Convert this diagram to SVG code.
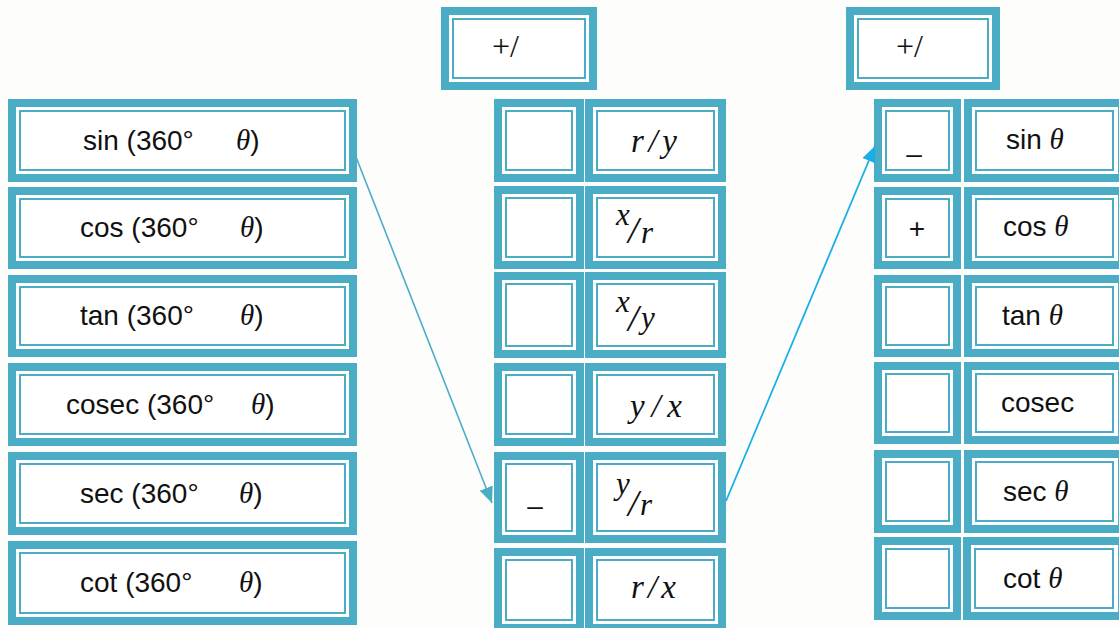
<svg xmlns="http://www.w3.org/2000/svg" width="1119" height="628" viewBox="0 0 1119 628">
  <style>
    .o { fill: #4bacc6; }
    .g { fill: #ffffff; }
    .l { fill: #ffffff; stroke: #4bacc6; stroke-width: 2; }
    text { font-family: "Liberation Sans", Arial, sans-serif; font-size: 28px; fill: #111111; }
    .m { font-family: "Liberation Serif", "Times New Roman", serif; font-style: italic; font-size: 29px; }
    .mm { font-family: "Liberation Serif", "Times New Roman", serif; font-style: italic; font-size: 33px; }
    .ms { font-family: "Liberation Serif", "Times New Roman", serif; font-style: italic; font-size: 31px; }
    .sl { font-family: "Liberation Serif", "Times New Roman", serif; font-style: italic; font-size: 38px; }
    .hd { font-family: "Liberation Serif", "Times New Roman", serif; font-size: 32px; }
    .c { text-anchor: middle; }
    .arrow1 { stroke: #4bacc6; stroke-width: 1.6; fill: none; }
    .arrow2 { stroke: #1aaee8; stroke-width: 1.8; fill: none; }
  </style>
  <defs>
    <marker id="headTeal" markerUnits="userSpaceOnUse" markerWidth="16" markerHeight="14" refX="16" refY="7" orient="auto">
      <path d="M0,0 L16,7 L0,14 z" fill="#4bacc6"/>
    </marker>
    <marker id="headBlue" markerUnits="userSpaceOnUse" markerWidth="16" markerHeight="14" refX="16" refY="7" orient="auto">
      <path d="M0,0 L16,7 L0,14 z" fill="#1aaee8"/>
    </marker>
  </defs>

  <rect x="0" y="0" width="1119" height="628" fill="#fdfdfc"/>

  <!-- left column: functions of (360° − θ) -->
  <g id="left-sin">
    <rect class="o" x="8" y="99" width="349" height="83"/>
    <rect class="g" x="16" y="107" width="333" height="67"/>
    <rect class="l" x="20" y="111" width="325" height="59"/>
    <text x="83" y="150">sin (360°<tspan x="236" class="m">θ</tspan>)</text>
  </g>
  <g id="left-cos">
    <rect class="o" x="8" y="187" width="349" height="82"/>
    <rect class="g" x="16" y="195" width="333" height="66"/>
    <rect class="l" x="20" y="199" width="325" height="58"/>
    <text x="80" y="237">cos (360°<tspan x="240" class="m">θ</tspan>)</text>
  </g>
  <g id="left-tan">
    <rect class="o" x="8" y="275" width="349" height="82"/>
    <rect class="g" x="16" y="283" width="333" height="66"/>
    <rect class="l" x="20" y="287" width="325" height="58"/>
    <text x="80" y="325">tan (360°<tspan x="240" class="m">θ</tspan>)</text>
  </g>
  <g id="left-cosec">
    <rect class="o" x="8" y="363" width="349" height="83"/>
    <rect class="g" x="16" y="371" width="333" height="67"/>
    <rect class="l" x="20" y="375" width="325" height="59"/>
    <text x="66" y="414">cosec (360°<tspan x="251" class="m">θ</tspan>)</text>
  </g>
  <g id="left-sec">
    <rect class="o" x="8" y="452" width="349" height="83"/>
    <rect class="g" x="16" y="460" width="333" height="67"/>
    <rect class="l" x="20" y="464" width="325" height="59"/>
    <text x="80" y="503">sec (360°<tspan x="239" class="m">θ</tspan>)</text>
  </g>
  <g id="left-cot">
    <rect class="o" x="8" y="541" width="349" height="84"/>
    <rect class="g" x="16" y="549" width="333" height="68"/>
    <rect class="l" x="20" y="553" width="325" height="60"/>
    <text x="80" y="592">cot (360°<tspan x="239" class="m">θ</tspan>)</text>
  </g>

  <!-- middle column: sign header and ratios -->
  <g id="mid-header">
    <rect class="o" x="441" y="7" width="156" height="83"/>
    <rect class="g" x="449" y="15" width="140" height="67"/>
    <rect class="l" x="453" y="19" width="132" height="59"/>
    <text class="hd" x="492" y="57">+/</text>
  </g>

  <g id="mid-sign-1">
    <rect class="o" x="494" y="99" width="90" height="83"/>
    <rect class="g" x="502" y="107" width="74" height="67"/>
    <rect class="l" x="506" y="111" width="66" height="59"/>
  </g>
  <g id="mid-ratio-1">
    <rect class="o" x="585" y="99" width="141" height="83"/>
    <rect class="g" x="593" y="107" width="125" height="67"/>
    <rect class="l" x="597" y="111" width="117" height="59"/>
    <text class="mm" x="631" y="152" textLength="46" lengthAdjust="spacing">r/y</text>
  </g>

  <g id="mid-sign-2">
    <rect class="o" x="494" y="186" width="90" height="83"/>
    <rect class="g" x="502" y="194" width="74" height="67"/>
    <rect class="l" x="506" y="198" width="66" height="59"/>
  </g>
  <g id="mid-ratio-2">
    <rect class="o" x="585" y="186" width="141" height="83"/>
    <rect class="g" x="593" y="194" width="125" height="67"/>
    <rect class="l" x="597" y="198" width="117" height="59"/>
    <text class="ms" x="616" y="225">x</text>
    <text class="sl" x="628" y="243">/</text>
    <text class="ms" x="641" y="243">r</text>
  </g>

  <g id="mid-sign-3">
    <rect class="o" x="494" y="272" width="90" height="86"/>
    <rect class="g" x="502" y="280" width="74" height="70"/>
    <rect class="l" x="506" y="284" width="66" height="62"/>
  </g>
  <g id="mid-ratio-3">
    <rect class="o" x="585" y="272" width="141" height="86"/>
    <rect class="g" x="593" y="280" width="125" height="70"/>
    <rect class="l" x="597" y="284" width="117" height="62"/>
    <text class="ms" x="616" y="312">x</text>
    <text class="sl" x="628" y="331">/</text>
    <text class="ms" x="641" y="328">y</text>
  </g>

  <g id="mid-sign-4">
    <rect class="o" x="494" y="363" width="90" height="83"/>
    <rect class="g" x="502" y="371" width="74" height="67"/>
    <rect class="l" x="506" y="375" width="66" height="59"/>
  </g>
  <g id="mid-ratio-4">
    <rect class="o" x="585" y="363" width="141" height="83"/>
    <rect class="g" x="593" y="371" width="125" height="67"/>
    <rect class="l" x="597" y="375" width="117" height="59"/>
    <text class="mm" x="630" y="417" textLength="52" lengthAdjust="spacing">y/x</text>
  </g>

  <g id="mid-sign-5">
    <rect class="o" x="494" y="452" width="90" height="91"/>
    <rect class="g" x="502" y="460" width="74" height="75"/>
    <rect class="l" x="506" y="464" width="66" height="67"/>
    <text class="c" x="535" y="515">–</text>
  </g>
  <g id="mid-ratio-5">
    <rect class="o" x="585" y="452" width="141" height="91"/>
    <rect class="g" x="593" y="460" width="125" height="75"/>
    <rect class="l" x="597" y="464" width="117" height="67"/>
    <text class="ms" x="616" y="494">y</text>
    <text class="sl" x="628" y="516">/</text>
    <text class="ms" x="640" y="515">r</text>
  </g>

  <g id="mid-sign-6">
    <rect class="o" x="494" y="548" width="90" height="84"/>
    <rect class="g" x="502" y="556" width="74" height="68"/>
    <rect class="l" x="506" y="560" width="66" height="60"/>
  </g>
  <g id="mid-ratio-6">
    <rect class="o" x="585" y="548" width="141" height="84"/>
    <rect class="g" x="593" y="556" width="125" height="68"/>
    <rect class="l" x="597" y="560" width="117" height="60"/>
    <text class="mm" x="631" y="598" textLength="45" lengthAdjust="spacing">r/x</text>
  </g>

  <!-- right column: sign header and basic functions of θ -->
  <g id="right-header">
    <rect class="o" x="846" y="7" width="154" height="83"/>
    <rect class="g" x="854" y="15" width="138" height="67"/>
    <rect class="l" x="858" y="19" width="130" height="59"/>
    <text class="hd" x="896" y="57">+/</text>
  </g>

  <g id="right-sign-1">
    <rect class="o" x="874" y="99" width="87" height="83"/>
    <rect class="g" x="882" y="107" width="71" height="67"/>
    <rect class="l" x="886" y="111" width="63" height="59"/>
    <text class="c" x="914" y="163">–</text>
  </g>
  <g id="right-fn-1">
    <rect class="o" x="964" y="99" width="162" height="83"/>
    <rect class="g" x="972" y="107" width="146" height="67"/>
    <rect class="l" x="976" y="111" width="137" height="59"/>
    <text x="1006" y="149">sin <tspan class="m">θ</tspan></text>
  </g>

  <g id="right-sign-2">
    <rect class="o" x="874" y="187" width="87" height="82"/>
    <rect class="g" x="882" y="195" width="71" height="66"/>
    <rect class="l" x="886" y="199" width="63" height="58"/>
    <text class="c" x="917" y="238">+</text>
  </g>
  <g id="right-fn-2">
    <rect class="o" x="964" y="187" width="162" height="82"/>
    <rect class="g" x="972" y="195" width="146" height="66"/>
    <rect class="l" x="976" y="199" width="137" height="58"/>
    <text x="1003" y="236">cos <tspan class="m">θ</tspan></text>
  </g>

  <g id="right-sign-3">
    <rect class="o" x="874" y="275" width="87" height="82"/>
    <rect class="g" x="882" y="283" width="71" height="66"/>
    <rect class="l" x="886" y="287" width="63" height="58"/>
  </g>
  <g id="right-fn-3">
    <rect class="o" x="964" y="275" width="162" height="82"/>
    <rect class="g" x="972" y="283" width="146" height="66"/>
    <rect class="l" x="976" y="287" width="137" height="58"/>
    <text x="1002" y="325">tan <tspan class="m">θ</tspan></text>
  </g>

  <g id="right-sign-4">
    <rect class="o" x="874" y="362" width="87" height="82"/>
    <rect class="g" x="882" y="370" width="71" height="66"/>
    <rect class="l" x="886" y="374" width="63" height="58"/>
  </g>
  <g id="right-fn-4">
    <rect class="o" x="964" y="362" width="162" height="82"/>
    <rect class="g" x="972" y="370" width="146" height="66"/>
    <rect class="l" x="976" y="374" width="137" height="58"/>
    <text x="1001" y="412">cosec</text>
  </g>

  <g id="right-sign-5">
    <rect class="o" x="874" y="450" width="87" height="83"/>
    <rect class="g" x="882" y="458" width="71" height="67"/>
    <rect class="l" x="886" y="462" width="63" height="59"/>
  </g>
  <g id="right-fn-5">
    <rect class="o" x="964" y="450" width="162" height="83"/>
    <rect class="g" x="972" y="458" width="146" height="67"/>
    <rect class="l" x="976" y="462" width="137" height="59"/>
    <text x="1003" y="501">sec <tspan class="m">θ</tspan></text>
  </g>

  <g id="right-sign-6">
    <rect class="o" x="874" y="537" width="87" height="83"/>
    <rect class="g" x="882" y="545" width="71" height="67"/>
    <rect class="l" x="886" y="549" width="63" height="59"/>
  </g>
  <g id="right-fn-6">
    <rect class="o" x="963" y="537" width="163" height="83"/>
    <rect class="g" x="971" y="545" width="147" height="67"/>
    <rect class="l" x="975" y="549" width="138" height="59"/>
    <text x="1003" y="588">cot <tspan class="m">θ</tspan></text>
  </g>

  <!-- connectors -->
  <g id="connectors">
    <line class="arrow1" x1="356" y1="157" x2="492" y2="503" marker-end="url(#headTeal)"/>
    <line class="arrow2" x1="726" y1="501" x2="875" y2="146" marker-end="url(#headBlue)"/>
  </g>
</svg>
